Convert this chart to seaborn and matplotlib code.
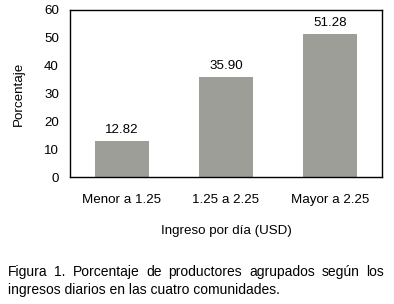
import matplotlib
matplotlib.use("Agg")
import matplotlib.pyplot as plt
import seaborn as sns
import pandas as pd

# Data
categories = ["Menor a 1.25", "1.25 a 2.25", "Mayor a 2.25"]
percentages = [12.82, 35.90, 51.28]

df = pd.DataFrame({"Ingreso": categories, "Porcentaje": percentages})

sns.set_style("white")
plt.rcParams["font.family"] = ["Liberation Sans", "DejaVu Sans"]
plt.rcParams["font.size"] = 9.6
plt.rcParams["text.color"] = "black"
plt.rcParams["axes.labelcolor"] = "black"
plt.rcParams["xtick.color"] = "black"
plt.rcParams["ytick.color"] = "black"

fig = plt.figure(figsize=(3.94, 3.04), dpi=100)
ax = fig.add_axes([70 / 394, 1 - 177 / 304, 312 / 394, 167 / 304])

sns.barplot(x="Ingreso", y="Porcentaje", data=df, color="#9E9E98",
            width=0.51, saturation=1, ax=ax, edgecolor="none")

# Value labels above the bars
for i, v in enumerate(percentages):
    ax.text(i, v + 1.9, f"{v:.2f}", ha="center", va="bottom")

ax.set_ylim(0, 60)
ax.set_xlim(-0.5, 2.5)
ax.set_yticks(range(0, 61, 10))
ax.tick_params(axis="both", length=0)
ax.tick_params(axis="y", pad=8)
ax.tick_params(axis="x", pad=12)
ax.set_xlabel("Ingreso por día (USD)", labelpad=14)
ax.set_ylabel("Porcentaje", labelpad=14)
for s in ax.spines.values():
    s.set_color("black")
    s.set_linewidth(1)

# Caption: first line justified between the margins
cap_size = 10
line1 = "Figura 1. Porcentaje de productores agrupados según los".split()
left, right = 8, 384
renderer = fig.canvas.get_renderer()
items = [fig.text(0, 1 - 272 / 304, w, ha="left", va="center", fontsize=cap_size)
         for w in line1]
widths = [t.get_window_extent(renderer).width for t in items]
gap = (right - left - sum(widths)) / (len(line1) - 1)
x = left
for t, w in zip(items, widths):
    t.set_x(x / 394)
    x += w + gap

fig.text(left / 394, 1 - 290 / 304, "ingresos diarios en las cuatro comunidades.",
         ha="left", va="center", fontsize=cap_size)

fig.savefig("out.png", dpi=100)
